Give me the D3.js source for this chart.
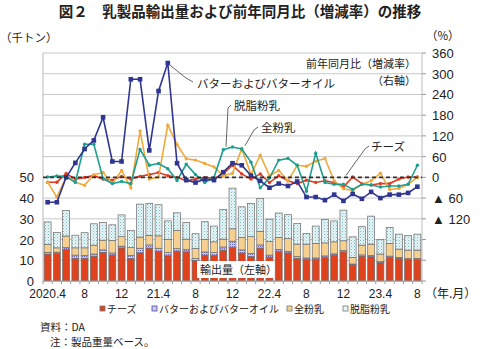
<!DOCTYPE html>
<html><head><meta charset="utf-8">
<script src="https://cdn.jsdelivr.net/npm/d3@7"></script>
<style>
body{margin:0;background:#fff;}
svg text{font-family:"Liberation Sans",Arial,"Noto Sans CJK JP",sans-serif;fill:#222;}
.jp{font-family:"Noto Sans CJK JP",sans-serif;}
</style></head>
<body><svg id="c" width="480" height="349"></svg>
<script>
// ---- data ----
const months = [];
for (let i = 0; i < 41; i++) { const m = 4 + i; const y = 2020 + Math.floor((m - 1) / 12); const mm = ((m - 1) % 12) + 1; months.push(y + "." + mm); }
const tickLabels = ["2020.4","8","12","21.4","8","12","22.4","8","12","23.4","8"];
const seriesNames = ["チーズ","バターおよびバターオイル","全粉乳","脱脂粉乳"];
// export volume (thousand tons)
const cheeseVol = [13.0,13.3,15.3,11.0,11.0,12.0,13.8,12.5,16.0,10.9,13.6,15.9,14.3,12.2,14.4,14.1,9.8,12.5,12.4,14.9,16.2,13.5,11.8,15.9,11.5,14.2,13.5,11.0,10.4,10.4,11.4,12.5,14.1,7.7,12.0,11.7,8.8,11.4,10.9,10.4,10.4];
const butterVol = [0.8,0.6,0.8,1.5,1.3,1.0,1.2,1.0,0.8,1.5,2.2,1.5,1.5,1.5,1.2,1.0,1.0,1.5,1.3,1.5,3.0,1.5,1.5,1.5,1.0,1.0,0.8,0.8,0.7,0.7,0.7,0.6,0.6,0.5,0.6,0.6,0.5,0.6,0.5,0.5,0.5];
const wmpVol = [3.9,2.1,5.6,3.5,3.7,4.3,4.7,6.0,4.6,3.7,5.4,4.6,6.0,6.4,8.8,5.1,4.9,6.1,5.2,3.8,6.0,6.0,8.1,6.6,6.5,5.8,6.2,6.0,6.7,7.0,6.3,5.8,4.7,3.2,4.7,5.5,3.7,6.1,4.0,4.0,4.0];
const smpVol = [10.8,7.4,12.3,6.1,7.3,10.3,8.5,7.6,10.5,8.3,15.9,15.4,15.0,8.9,8.5,8.0,7.1,8.5,7.6,14.3,19.6,14.8,16.0,15.8,10.8,11.8,11.5,10.0,5.1,8.4,11.3,10.1,14.8,9.9,8.9,13.5,7.1,7.7,7.2,7.1,7.7];
// year-on-year change (%)
const cheeseYoY = [-14,-14,11,-5,0,5,-5,-8,3,-5,3,8,14,5,0,-10,-5,0,-3,10,35,10,-5,10,-15,5,-10,-18,-8,-15,-10,-15,-28,1,-18,-22,-18,-18,-5,1,1];
const butterYoY = [-72,-72,0,42,82,107,174,46,46,284,284,78,250,331,41,-8,-15,-5,-8,15,41,35,5,-10,-30,-18,-25,-12,-57,-57,-66,-50,-68,-48,-62,-42,-60,-50,-50,-45,-27];
const wmpYoY = [-14,-57,1,-14,-23,8,14,-18,20,-30,134,-5,1,151,95,54,50,40,30,5,12,83,8,64,5,20,-10,35,32,47,55,-10,-33,-38,-20,-10,12,-35,-32,-20,0];
const smpYoY = [1,4,3,-14,96,96,-4,-18,-12,-18,81,35,40,25,-9,38,8,-15,0,80,88,82,44,-30,-2,50,55,35,-40,70,-15,-20,-20,-35,-20,-22,-28,-25,-25,-20,35];
const leftTicks = [0,10,20,30,40,50];
const rightTicks = [360,300,240,180,120,60,0,-60,-120];

// ---- layout ----
const svg = d3.select("#c");
const L = 43, R = 422, T = 53, B = 281;
const x = d3.scaleBand().domain(months).range([L, R]).paddingInner(0.25).paddingOuter(0.125);
const yL = d3.scaleLinear().domain([0, 110]).range([B, T]);
const yR = d3.scaleLinear().domain([-300, 360]).range([B, T]);

const defs = svg.append("defs");
const p1 = defs.append("pattern").attr("id","smp").attr("width",3).attr("height",3).attr("patternUnits","userSpaceOnUse");
p1.append("rect").attr("width",3).attr("height",3).attr("fill","#e6f5f7");
p1.append("rect").attr("x",0).attr("y",0).attr("width",1).attr("height",1).attr("fill","#7fb9c0");
p1.append("rect").attr("x",1.5).attr("y",1.5).attr("width",1).attr("height",1).attr("fill","#a9d3d8");
const p2 = defs.append("pattern").attr("id","bt").attr("width",2).attr("height",2).attr("patternUnits","userSpaceOnUse");
p2.append("rect").attr("width",2).attr("height",2).attr("fill","#c9c9ee");
p2.append("rect").attr("width",1).attr("height",1).attr("fill","#6a6ab8");

// gridlines
svg.append("g").selectAll("line").data(d3.range(10, 111, 10)).join("line")
  .attr("x1", L).attr("x2", R).attr("y1", d => yL(d)).attr("y2", d => yL(d))
  .attr("stroke", "#c8c8c8").attr("stroke-width", 1);
svg.append("line").attr("x1",L).attr("x2",L).attr("y1",T).attr("y2",B).attr("stroke","#bbb");
svg.append("line").attr("x1",R).attr("x2",R).attr("y1",T).attr("y2",B).attr("stroke","#bbb");

// stacked bars
const rows = months.map((m, i) => ({m, c: cheeseVol[i], b: butterVol[i], w: wmpVol[i], s: smpVol[i]}));
const stack = d3.stack().keys(["c","b","w","s"])(rows);
const fills = {c:"#e0421e", b:"url(#bt)", w:"#f6d08f", s:"url(#smp)"};
const gBars = svg.append("g");
stack.forEach(layer => {
  gBars.append("g").selectAll("rect").data(layer).join("rect")
    .attr("x", d => x(d.data.m)).attr("width", x.bandwidth())
    .attr("y", d => yL(d[1])).attr("height", d => yL(d[0]) - yL(d[1]))
    .attr("fill", fills[layer.key]).attr("stroke", "#6b6b6b").attr("stroke-width", 0.7);
});

// x axis
const xa = svg.append("g");
xa.append("line").attr("x1",L).attr("x2",R).attr("y1",B).attr("y2",B).attr("stroke","#999");
xa.selectAll("line.t").data(d3.range(42)).join("line").attr("class","t")
  .attr("x1", i => L + i * x.step()).attr("x2", i => L + i * x.step())
  .attr("y1", B).attr("y2", B + 3).attr("stroke","#999");
xa.selectAll("text").data(tickLabels).join("text")
  .attr("x", (d,i) => x(months[i*4]) + x.bandwidth()/2).attr("y", 298)
  .attr("text-anchor","middle").attr("font-size", 12).text(d => d);
svg.append("text").attr("class","jp").attr("x",425).attr("y",298).attr("font-size",12).text("（年.月）");

// left labels
svg.append("g").selectAll("text").data(leftTicks).join("text")
  .attr("x", 34).attr("y", d => yL(d) + 5).attr("text-anchor","end").attr("font-size", 13).text(d => d);
// right labels
svg.append("g").selectAll("line").data(d3.range(-300, 361, 60)).join("line")
  .attr("x1", R).attr("x2", R + 4).attr("y1", d => yR(d)).attr("y2", d => yR(d)).attr("stroke","#999");
svg.append("g").selectAll("text").data(rightTicks).join("text")
  .attr("x", 432).attr("y", d => yR(d) + 5).attr("font-size", 13)
  .text(d => d < 0 ? "▲ " + (-d) : d);

// lines
const cx = (d, i) => x(months[i]) + x.bandwidth() / 2;
const lineGen = d3.line().x(cx).y(d => yR(d));
const lines = [
  {v: cheeseYoY, c: "#e23b22", m: "circle"},
  {v: wmpYoY, c: "#f2a93b", m: "circle"},
  {v: smpYoY, c: "#1f9e8f", m: "circle"},
  {v: butterYoY, c: "#2f3590", m: "square"}
];
lines.forEach(s => {
  svg.append("path").datum(s.v).attr("d", lineGen).attr("fill","none").attr("stroke", s.c).attr("stroke-width", 1.6);
  const g = svg.append("g");
  if (s.m === "square") {
    g.selectAll("rect").data(s.v).join("rect").attr("x", (d,i) => cx(d,i) - 2.3).attr("y", d => yR(d) - 2.3)
      .attr("width", 4.6).attr("height", 4.6).attr("fill", s.c);
  } else {
    g.selectAll("circle").data(s.v).join("circle").attr("cx", cx).attr("cy", d => yR(d)).attr("r", 1.7).attr("fill", s.c);
  }
});
svg.append("line").attr("x1", L).attr("x2", R).attr("y1", yR(0)).attr("y2", yR(0))
  .attr("stroke","#333").attr("stroke-width",1.6).attr("stroke-dasharray","4,3");

// annotations
const ann = svg.append("g").attr("class","jp");
ann.append("text").attr("x",416).attr("y",68).attr("text-anchor","end").attr("font-size",11).text("前年同月比（増減率）");
ann.append("text").attr("x",416).attr("y",85).attr("text-anchor","end").attr("font-size",11).text("（右軸）");
const lead = (pts) => svg.append("polyline").attr("points", pts.map(p => p.join(",")).join(" ")).attr("fill","none").attr("stroke","#555").attr("stroke-width",0.9);
lead([[x(months[13]) + x.bandwidth()/2 + 2, yR(butterYoY[13]) + 2], [186, 78], [193, 82]]);
ann.append("text").attr("x",197).attr("y",88).attr("font-size",11.5).text("バターおよびバターオイル");
lead([[226, yR(smpYoY[19]) - 3], [228, 108], [231, 105]]);
ann.append("text").attr("x",234).attr("y",110).attr("font-size",11.5).text("脱脂粉乳");
lead([[245, yR(wmpYoY[21]) - 3], [254, 130], [258, 127]]);
ann.append("text").attr("x",261).attr("y",132).attr("font-size",11.5).text("全粉乳");
lead([[346, yR(0) - 2], [365, 149], [369, 146]]);
ann.append("text").attr("x",371).attr("y",151).attr("font-size",11.5).text("チーズ");
const lbl = svg.append("g");
lbl.append("rect").attr("x",197).attr("y",261).attr("width",77).attr("height",17).attr("fill","#fff");
lbl.append("text").attr("class","jp").attr("x",200).attr("y",274).attr("font-size",11).text("輸出量（左軸）");

// title & units
svg.append("text").attr("class","jp").attr("x",240).attr("y",17).attr("text-anchor","middle")
  .attr("font-size",14.5).attr("font-weight","bold").text("図２　乳製品輸出量および前年同月比（増減率）の推移");
svg.append("text").attr("class","jp").attr("x",0).attr("y",42).attr("font-size",11.5).text("（千トン）");
svg.append("text").attr("class","jp").attr("x",426).attr("y",40).attr("font-size",11.5).text("（%）");

// legend
const legFill = ["#e0421e","#c9c9ee","#f6d08f","#e6f5f7"];
const legX = [100, 152, 287, 343];
const lg = svg.append("g");
seriesNames.forEach((n, i) => {
  lg.append("rect").attr("x", legX[i]).attr("y", 306).attr("width", 5).attr("height", 5)
    .attr("fill", legFill[i]).attr("stroke", i === 1 ? "#4a4aa0" : "#777").attr("stroke-width", 0.8);
  lg.append("text").attr("class","jp").attr("x", legX[i] + 7).attr("y", 313).attr("font-size", 10).text(n);
});
// notes
svg.append("text").attr("class","jp").attr("x",40).attr("y",331).attr("font-size",10.5).text("資料：DA");
svg.append("text").attr("class","jp").attr("x",50).attr("y",346).attr("font-size",10.5).text("注：製品重量ベース。");
</script></body></html>
